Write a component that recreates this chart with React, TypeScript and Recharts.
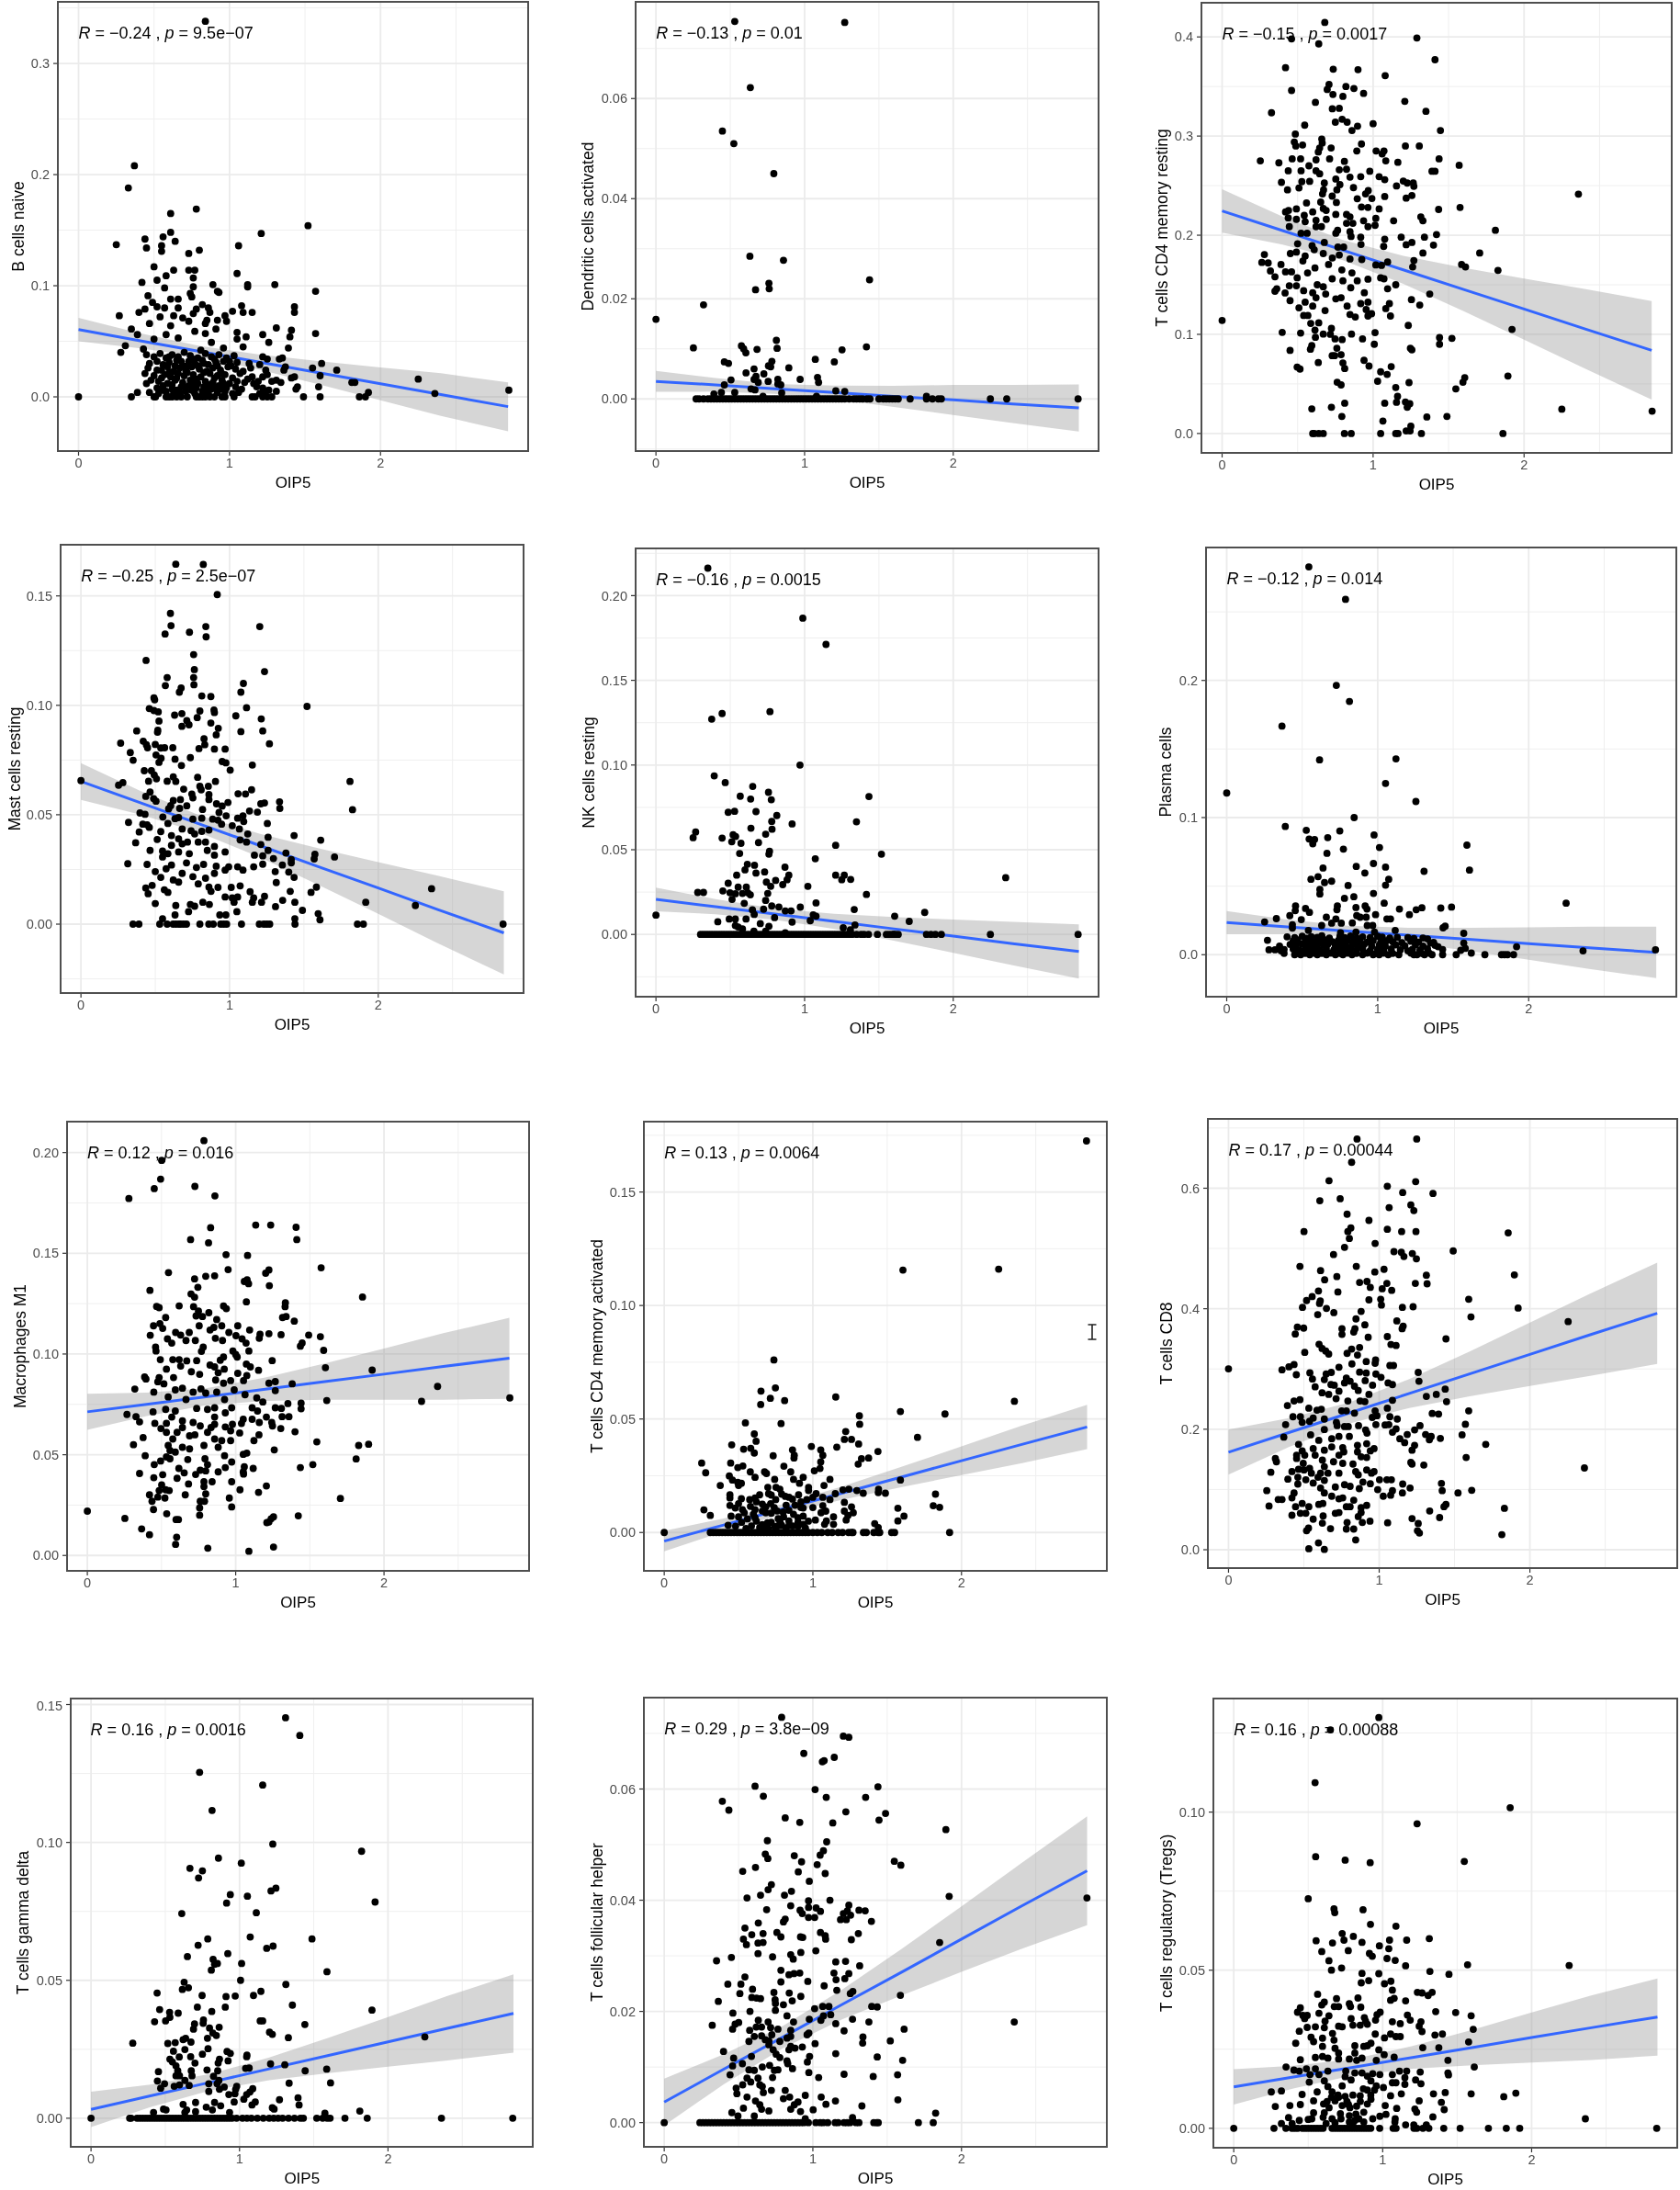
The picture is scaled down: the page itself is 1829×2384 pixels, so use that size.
import React from 'react';
import { ComposedChart, CartesianGrid, XAxis, YAxis, Scatter, Area, Line } from 'recharts';

const FONT = '"Liberation Sans", Arial, sans-serif';
const xDomain = [-0.143, 2.984];
const xTicks = [0, 1, 2];
const xMinor = [0.5, 1.5, 2.5];
const smoothX = [0, .4, .8, 1.2, 1.6, 2, 2.4, 2.845];

const bCellsPts = [[.84,.338],[.37,.208],[.33,.188],[.78,.169],[.61,.165],[1.52,.154],[.61,.148],[1.21,.147],[.56,.144],[.44,.142],[.25,.137],[.64,.14],[.55,.136],[1.06,.136],[.45,.134],[.55,.131],[.8,.132],[.73,.129],[.5,.117],[.63,.114],[.73,.114],[.77,.114],[1.05,.111],[.58,.109],[.76,.107],[.52,.105],[.42,.103],[.89,.101],[1.3,.101],[1.12,.101],[1.12,.099],[.57,.098],[.76,.099],[.92,.095],[.93,.094],[1.57,.095],[.46,.091],[.74,.093],[.75,.09],[.61,.088],[.66,.088],[.49,.085],[.52,.081],[.66,.08],[1.08,.082],[1.43,.081],[.82,.083],[.78,.079],[.86,.08],[.44,.079],[.57,.08],[.4,.076],[1.02,.077],[1.09,.076],[1.15,.076],[1.43,.076],[.76,.075],[.87,.076],[.27,.073],[.54,.072],[.97,.073],[.63,.073],[.92,.069],[.98,.068],[.85,.069],[.69,.071],[.73,.068],[.47,.066],[.61,.064],[.84,.066],[1.31,.062],[.35,.061],[.91,.061],[1.41,.06],[1.05,.058],[1.57,.057],[.39,.056],[.58,.056],[.77,.059],[.84,.057],[1.22,.056],[1.11,.054],[1.4,.054],[1.05,.052],[.5,.052],[.66,.053],[1.26,.049],[.88,.049],[.31,.046],[1.39,.044],[1.09,.045],[.96,.044],[.43,.043],[.28,.04],[.81,.042],[1.55,.026],[1.61,.03],[1.71,.024],[1.6,.019],[1.59,.009],[1.81,.013],[1.83,.013],[2.25,.016],[2.36,.003],[2.85,.006],[1.92,.004],[1.45,.009],[1.44,.007],[1.43,.018],[1.41,.017],[1.35,.035],[1.33,.034],[1.37,.027],[1.36,.024],[1.31,.005],[1.34,.013],[1.31,.015],[.45,.038],[.5,.036],[.54,.039],[.58,.035],[.62,.038],[.66,.036],[.7,.04],[.74,.037],[.79,.035],[.84,.039],[.88,.036],[.93,.038],[.98,.035],[1.03,.037],[1.22,.036],[1.25,.034],[.47,.03],[.52,.032],[.56,.029],[.6,.031],[.65,.033],[.69,.028],[.73,.032],[.77,.03],[.82,.033],[.86,.029],[.91,.031],[.96,.032],[1.01,.028],[1.05,.031],[1.13,.03],[1.2,.029],[.46,.026],[.55,.024],[.59,.027],[.63,.023],[.67,.026],[.71,.024],[.75,.027],[.8,.025],[.85,.023],[.89,.026],[.94,.024],[.99,.027],[1.04,.025],[1.09,.023],[1.14,.026],[1.24,.024],[.44,.021],[.5,.019],[.57,.02],[.61,.018],[.66,.021],[.7,.019],[.76,.02],[.81,.018],[.87,.021],[.92,.019],[.97,.02],[1.02,.017],[1.07,.021],[1.15,.018],[1.25,.02],[.45,.012],[.48,.015],[.53,.014],[.59,.012],[.64,.015],[.69,.013],[.74,.015],[.79,.012],[.84,.014],[.89,.013],[.95,.015],[1,.012],[1.05,.014],[1.1,.013],[1.16,.012],[1.28,.014],[.52,.008],[.56,.01],[.62,.007],[.68,.009],[.73,.01],[.78,.008],[.83,.009],[.88,.007],[.93,.01],[.98,.008],[1.04,.009],[1.08,.007],[1.18,.009],[1.22,.008],[1.26,.006],[.39,.004],[.47,.004],[.53,.003],[.58,.005],[.63,.003],[.67,.004],[.71,.005],[.77,.003],[.82,.005],[.86,.003],[.92,.004],[.97,.005],[1.02,.003],[1.06,.004],[1.2,.003],[1.24,.005],[.52,.024],[.6,.022],[.65,.017],[.72,.022],[.78,.016],[.83,.022],[.9,.017],[.95,.021],[.55,.017],[.62,.011],[.7,.009],[.76,.011],[.86,.011],[.91,.008],[.96,.012],[.56,.006],[.65,.006],[.75,.006],[.85,.006],[.95,.007],[.6,.036],[.68,.032],[.76,.034],[.83,.03],[.9,.034],[.64,.028],[.72,.028],[.79,.028],[.92,.028],[1.0,.032],[1.12,.016],[1.19,.014],[1.22,.018]];
const bCellsZero = [0,.35,.5,.51,.58,.6,.62,.65,.68,.72,.78,.8,.82,.84,.87,.9,.95,.97,1.03,1.15,1.17,1.22,1.25,1.28,1.49,1.6,1.86,1.9];
const bCellsFit = [.0605,.0507,.041,.0312,.0215,.0117,.002,-.0088];
const bCellsLo = [.05,.0439,.0361,.0244,.011,-.0031,-.0172,-.031];
const bCellsHi = [.071,.0575,.0459,.038,.032,.0265,.0212,.013];

const dcPts = [[.53,.0754],[1.27,.0752],[.635,.0622],[.447,.0535],[.524,.051],[.793,.045],[.632,.0285],[.858,.0277],[.76,.0231],[1.437,.0238],[.762,.022],[.67,.0218],[.32,.0188],[0,.0159],[.81,.0117],[.252,.0102],[.575,.0106],[.59,.01],[.605,.0092],[.68,.0099],[.815,.0101],[1.416,.0104],[1.252,.0098],[1.072,.0079],[1.2,.0074],[.78,.0075],[.46,.0074],[.488,.0071],[.757,.0066],[.772,.0064],[.66,.006],[.894,.0062],[.606,.0052],[.726,.005],[.673,.0045],[.66,.0039],[1.087,.0043],[1.094,.0033],[.97,.0039],[.505,.0038],[.755,.0035],[.82,.0039],[.688,.0033],[.46,.0028],[.84,.0028],[.82,.003],[.64,.002],[.666,.0018],[.44,.0013],[.53,.0013],[.39,.001],[.846,.0012],[1.21,.0016],[1.27,.0015],[1.82,.0005],[.72,.0005],[1.08,.0005]];
const dcZero = [.27,.29,.32,.35,.37,.39,.41,.43,.45,.47,.49,.51,.53,.55,.57,.59,.61,.63,.65,.67,.69,.71,.73,.75,.77,.79,.81,.83,.85,.87,.89,.91,.93,.95,.97,.99,1.01,1.03,1.05,1.07,1.09,1.11,1.13,1.15,1.17,1.19,1.21,1.23,1.25,1.27,1.3,1.33,1.35,1.37,1.39,1.42,1.44,1.5,1.53,1.55,1.57,1.59,1.61,1.63,1.71,1.82,1.86,1.9,1.92,2.25,2.36,2.84];
const dcFit = [.0035,.0028,.002,.0013,.0005,-.0002,-.001,-.0018];
const dcLo = [.0014,.00145,.00102,-.00005,-.0016,-.0032,-.0048,-.0065];
const dcHi = [.0056,.00415,.00298,.00265,.0026,.0028,.0028,.0029];

const cd4RestPts = [[.68,.4146],[.46,.398],[1.29,.399],[.64,.393],[1.41,.377],[.42,.369],[.736,.3675],[.9,.367],[1.08,.361],[.708,.352],[.82,.35],[.873,.348],[.696,.347],[.46,.346],[.734,.342],[.937,.343],[.8,.34],[.618,.334],[1.21,.335],[1.35,.325],[.327,.3235],[.73,.3275],[.776,.328],[.795,.317],[.75,.314],[.828,.314],[1,.3125],[.547,.311],[.897,.31],[.86,.3056],[1.446,.3056],[.485,.302],[.66,.297],[.478,.294],[.533,.291],[.923,.292],[1.214,.29],[1.306,.29],[.488,.29],[.663,.293],[.646,.288],[.722,.288],[.637,.284],[.892,.285],[1.02,.285],[1.072,.285],[1.06,.282],[.253,.275],[.376,.273],[.464,.277],[.52,.277],[.712,.277],[1.437,.277],[1.084,.275],[.622,.276],[.81,.2745],[1.164,.2735],[1.57,.2705],[.575,.27],[.438,.265],[.523,.265],[.776,.266],[.824,.2665],[.978,.2645],[1.39,.2645],[1.41,.2645],[.622,.265],[.646,.262],[.918,.259],[1.04,.259],[.847,.2586],[.753,.2566],[1.077,.256],[.393,.2533],[.528,.254],[.58,.2543],[.677,.2526],[1.2,.2546],[1.226,.2526],[1.266,.2526],[1.155,.2497],[1.27,.2493],[.509,.2477],[.78,.251],[.87,.248],[.433,.2457],[.672,.2457],[.76,.2457],[.968,.245],[.95,.2417],[.665,.2417],[1.077,.239],[1.219,.2374],[1.257,.24],[2.36,.2414],[.729,.2394],[.895,.2368],[.992,.237],[.653,.2334],[.559,.2325],[.757,.233],[.923,.2285],[.966,.228],[1.04,.2265],[1.434,.226],[1.576,.228],[.492,.2265],[.44,.225],[.42,.2235],[.67,.227],[.689,.225],[.824,.221],[.753,.221],[.544,.22],[.6,.2235],[.847,.2185],[.438,.2175],[1.316,.2185],[1.33,.2146],[1.018,.217],[1.136,.2146],[.937,.2146],[.492,.216],[.55,.2136],[.622,.215],[.69,.216],[.824,.212],[.866,.212],[.622,.2086],[.658,.2086],[.445,.2086],[.966,.2086],[1.013,.21],[.765,.205],[.847,.2036],[.753,.202],[1.81,.205],[1.42,.2007],[1.186,.198],[.523,.202],[.563,.202],[.918,.198],[1.077,.196],[1.34,.198],[.854,.1987],[1.257,.1927],[1.219,.1904],[1.07,.1887],[1.4,.19],[.92,.1907],[.677,.1927],[.5,.1914],[.596,.1894],[.767,.188],[.805,.188],[1.33,.182],[1.706,.182],[.452,.1815],[.492,.183],[.61,.1854],[.28,.1805],[.67,.1815],[.776,.18],[.55,.179],[.73,.177],[.847,.176],[1.27,.1745],[.925,.1755],[1.018,.17],[1.056,.1695],[1.096,.173],[1.586,.1705],[1.612,.168],[1.262,.168],[.263,.1725],[.305,.172],[.39,.1705],[.535,.174],[.705,.1705],[1.827,.1645],[.32,.164],[.42,.163],[.46,.163],[.615,.167],[.793,.165],[.86,.162],[.566,.162],[.35,.158],[.497,.157],[1.05,.157],[1.072,.156],[.966,.1556],[.895,.154],[.729,.156],[.8,.154],[.63,.15],[.67,.148],[.445,.149],[.492,.149],[1.15,.15],[1.096,.146],[.852,.147],[.362,.146],[.35,.1435],[.54,.144],[.417,.1417],[.6,.142],[1.375,.1407],[.686,.1407],[.942,.142],[.622,.137],[.788,.137],[.753,.1358],[1.254,.135],[.45,.134],[.55,.1325],[1.108,.131],[.918,.131],[.966,.1325],[.828,.1285],[1.309,.1295],[.509,.1268],[.6,.1285],[1.084,.126],[.682,.124],[.954,.125],[.847,.12],[.99,.1208],[.54,.119],[.568,.119],[1.115,.1185],[.882,.1175],[.966,.1185],[0,.114],[.587,.111],[.64,.1116],[1.233,.109],[1.92,.105],[.615,.1043],[.724,.106],[.398,.102],[.52,.1013],[.857,.1003],[1.013,.1017],[.67,.1003],[.717,.1],[1.44,.0967],[1.522,.096],[.618,.097],[.748,.0954],[.795,.0947],[.93,.0954],[1.44,.09],[1.008,.09],[.594,.0887],[1.247,.086],[1.257,.0844],[.585,.085],[.76,.086],[.45,.0838],[.729,.0785],[.745,.0785],[.788,.0795],[.94,.0738],[.637,.0715],[.8,.0712],[.973,.068],[1.12,.0675],[.497,.067],[.516,.065],[.812,.0655],[1.05,.0622],[1.093,.0596],[1.893,.058],[1.03,.0527],[.762,.0517],[.788,.049],[1.238,.0513],[1.607,.0563],[1.595,.0517],[1.548,.045],[1.15,.0464],[1.162,.0374],[1.155,.0315],[1.077,.0305],[.812,.0305],[1.214,.0318],[1.226,.0265],[1.243,.03],[.594,.0248],[.724,.0265],[2.25,.0245],[2.848,.0225],[.793,.0172],[1.356,.0166],[1.489,.0172],[1.065,.0126],[1.25,.0073],[1.219,.0026],[1.245,.0026]];
const cd4RestZero = [.6,.61,.64,.67,.81,.855,1.05,1.15,1.165,1.32,1.86];
const cd4RestFit = [.2245,.2047,.1849,.1651,.1453,.1255,.1057,.0838];
const cd4RestLo = [.2026,.1906,.1747,.151,.1234,.0947,.0656,.0341];
const cd4RestHi = [.2464,.2188,.1951,.1792,.1672,.1563,.1458,.1335];

const mastPts = [[.638,.1645],[.823,.1644],[.917,.1506],[.602,.142],[.606,.1364],[.84,.136],[1.203,.136],[.566,.1326],[.73,.1334],[.842,.1313],[.758,.1232],[.438,.1205],[.763,.1163],[1.235,.1154],[.58,.1127],[.758,.1127],[.76,.1094],[.568,.109],[1.093,.11],[.674,.1079],[.662,.106],[1.076,.106],[.813,.1043],[.874,.104],[.491,.1034],[.496,.1025],[1.521,.0995],[1.114,.0989],[.46,.0985],[.491,.0976],[.52,.097],[.895,.0979],[.898,.0967],[.8,.0974],[.679,.0962],[.63,.0955],[1.042,.0952],[.782,.0944],[1.213,.0938],[.712,.093],[.525,.0928],[.727,.0911],[.874,.0919],[.679,.0904],[.924,.0895],[1.223,.0883],[.375,.0883],[.517,.0886],[.515,.0877],[1.076,.088],[.91,.0865],[.828,.0847],[.419,.0836],[.267,.0827],[1.268,.0824],[.5,.0821],[.44,.082],[.448,.0806],[.537,.0805],[.563,.0806],[.618,.0806],[.833,.082],[.898,.08],[.97,.08],[.794,.0802],[.332,.0784],[.505,.0773],[.736,.0761],[.633,.0754],[.351,.0749],[.539,.0758],[.525,.0739],[.95,.0743],[.975,.0737],[1.153,.0727],[.676,.0725],[1.004,.0704],[.426,.0701],[.474,.0701],[.493,.0682],[.508,.0664],[.621,.0673],[.785,.0671],[.455,.0653],[.58,.0653],[.638,.0652],[.905,.0652],[1.81,.0652],[0,.0656],[.253,.0635],[.282,.0647],[.8,.063],[.857,.063],[.809,.0614],[.691,.0617],[1.148,.0614],[.465,.0604],[1.107,.0595],[1.057,.0596],[.861,.0592],[.436,.0584],[.746,.0595],[.489,.0574],[.505,.0562],[.621,.0565],[.669,.0569],[.753,.0577],[.861,.0569],[1.336,.0559],[.989,.0556],[1.235,.0554],[1.21,.055],[.912,.055],[.95,.054],[.604,.0542],[.712,.0541],[1.338,.0529],[.59,.0527],[.664,.0529],[1.134,.0517],[1.827,.0523],[1.187,.0512],[.818,.0524],[.929,.051],[.397,.0508],[.431,.0502],[.977,.0495],[.551,.049],[1.09,.0495],[.633,.0482],[.657,.0487],[.813,.0484],[.753,.048],[.886,.048],[.922,.0475],[1.054,.0484],[1.095,.0469],[.32,.0465],[.416,.0457],[.445,.0454],[.585,.046],[1.254,.046],[.946,.0457],[1.018,.045],[.46,.0442],[1.066,.0435],[.681,.0435],[.392,.0421],[.537,.0423],[.813,.0424],[.861,.043],[.741,.0427],[1.122,.0412],[1.434,.0405],[.765,.0412],[.609,.0405],[1.259,.0397],[.513,.0387],[1.613,.0384],[.657,.039],[1.071,.0385],[.368,.0372],[.717,.0375],[.789,.0375],[.681,.0367],[1.114,.0375],[.898,.0355],[.838,.0375],[.609,.036],[1.21,.0364],[.465,.0337],[.97,.033],[.85,.0337],[.657,.033],[1.259,.0337],[.549,.0334],[1.379,.0325],[.585,.0322],[1.574,.0319],[.729,.0322],[1.167,.0315],[1.223,.0312],[.898,.0315],[.549,.0307],[1.569,.0298],[1.706,.0307],[1.295,.03],[1.415,.0295],[.315,.0276],[.445,.0273],[.71,.028],[.825,.0273],[1.223,.0274],[1.355,.027],[1.415,.028],[.609,.027],[1.162,.0262],[.777,.0259],[.91,.0265],[.994,.0262],[1.054,.0262],[.573,.0253],[.97,.0247],[1.09,.0247],[1.307,.024],[1.398,.0238],[.5,.024],[.898,.0232],[.681,.0232],[1.434,.0214],[.753,.0217],[.838,.021],[.537,.0214],[.621,.0202],[1.314,.019],[.657,.0192],[.789,.0184],[1.011,.0168],[1.071,.0175],[.479,.0177],[.436,.0165],[1.584,.0169],[.922,.0168],[.861,.0169],[.561,.0157],[1.408,.015],[1.548,.0145],[1.138,.0148],[.452,.0139],[.585,.0145],[.875,.015],[1.018,.012],[1.054,.0124],[1.235,.0127],[1.162,.012],[.97,.0124],[1.357,.0109],[1.03,.01],[1.153,.01],[1.215,.01],[1.439,.01],[1.916,.01],[.5,.0094],[.82,.01],[.864,.009],[1.309,.008],[.638,.0085],[2.25,.0085],[.736,.009],[.765,.0082],[1.49,.0063],[.724,.0057],[1.049,.0057],[.934,.0042],[.975,.0042],[.633,.0042],[1.596,.0048],[1.439,.0025],[1.608,.002],[.549,.0025],[2.359,.0162]];
const mastZero = [.35,.39,.53,.58,.62,.64,.66,.67,.69,.71,.8,.86,.89,.94,.96,.98,1.08,1.2,1.23,1.25,1.27,1.44,1.86,1.9,2.84];
const mastFit = [.0652,.0555,.0457,.036,.0262,.0165,.0067,-.004];
const mastLo = [.0568,.0501,.0418,.0306,.0178,.0047,-.0087,-.023];
const mastHi = [.0736,.0609,.0496,.0414,.0346,.0283,.0221,.015];

const nkPts = [[.349,.2162],[.988,.1867],[1.144,.1712],[.767,.1315],[.445,.1304],[.375,.1271],[.969,.1],[.392,.0936],[.466,.0896],[.651,.0874],[.757,.0839],[.567,.0816],[1.433,.0814],[.637,.0799],[.776,.0795],[.486,.0721],[.529,.0727],[.673,.0725],[.813,.0702],[.779,.0667],[1.349,.0665],[.916,.0652],[.639,.0627],[.781,.0621],[.267,.0605],[.25,.0571],[.738,.0592],[.519,.0588],[.536,.0578],[.445,.0569],[.51,.0547],[.572,.0538],[.69,.0542],[1.209,.0526],[.764,.0491],[.76,.0474],[.563,.0478],[1.517,.0474],[1.072,.0447],[.615,.0414],[.663,.0408],[.868,.0397],[.599,.0381],[.731,.0369],[.673,.0362],[.894,.035],[.543,.035],[1.209,.035],[1.267,.035],[1.31,.0325],[1.25,.0323],[2.353,.0335],[.882,.0323],[.805,.0319],[.743,.0309],[.486,.0302],[.853,.0294],[.772,.0284],[1.022,.0284],[.553,.0279],[.608,.0279],[.45,.0257],[.281,.0248],[.32,.0248],[.498,.0246],[.534,.024],[.582,.0242],[.618,.0246],[.635,.0234],[.752,.0242],[1.416,.0236],[.512,.0207],[.738,.0201],[.594,.0184],[1.077,.0186],[.779,.0168],[.827,.0162],[.971,.0161],[.724,.0149],[.649,.0145],[1.334,.0147],[.87,.0139],[.909,.0139],[.661,.0118],[1.058,.0116],[1.077,.0108],[1.606,.0108],[1.808,.013],[0,.0114],[.798,.0099],[.493,.0091],[.534,.0091],[.606,.0091],[1.038,.0081],[.916,.0073],[.416,.0075],[1.704,.0077],[.702,.0064],[.534,.0052],[.553,.0044],[.76,.0048],[1.26,.0039],[1.339,.0056],[1.308,.0027],[.582,.0033],[.659,.0019],[.738,.0019],[.87,.001]];
const nkZero = [.3,.32,.34,.36,.38,.4,.42,.44,.46,.48,.5,.52,.54,.56,.58,.6,.62,.64,.66,.68,.7,.72,.74,.76,.78,.8,.82,.84,.86,.88,.9,.92,.94,.96,.98,1,1.02,1.04,1.06,1.08,1.1,1.12,1.14,1.16,1.18,1.2,1.22,1.24,1.26,1.28,1.3,1.32,1.35,1.38,1.4,1.43,1.49,1.55,1.57,1.59,1.6,1.61,1.63,1.82,1.85,1.88,1.92,2.25,2.84];
const nkFit = [.0207,.0164,.012,.0077,.0033,-.001,-.0054,-.0101];
const nkLo = [.0137,.0119,.0087,.0032,-.0037,-.0108,-.0182,-.0261];
const nkHi = [.0277,.0209,.0153,.0122,.0103,.0088,.0074,.0059];

const plasmaPts = [[.544,.2828],[.787,.2591],[.726,.1964],[.813,.1847],[.366,.1667],[.615,.1421],[1.121,.1428],[1.052,.1249],[0,.1179],[1.253,.1117],[.844,.1],[.388,.0935],[.527,.0907],[.749,.0902],[.976,.0873],[.669,.0854],[.546,.0844],[.582,.084],[.57,.0809],[1.591,.0799],[1.012,.0782],[.773,.077],[.664,.0739],[.972,.0665],[.858,.0644],[1.052,.0639],[.638,.0632],[1.608,.0617],[1.307,.0608],[.915,.0596],[.605,.0569],[.558,.055],[1.073,.055],[.695,.0536],[.648,.0526],[1.052,.0507],[.804,.0505],[.617,.0476],[.617,.0443],[.972,.0447],[.842,.0423],[.78,.0411],[2.248,.0376],[1.043,.0376],[.456,.0356],[.733,.0356],[.917,.0356],[.522,.0337],[1.144,.0333],[.856,.0344],[1.293,.0342],[1.255,.0328],[1.418,.034],[1.489,.0347],[.454,.0321],[.929,.0333],[.73,.0328],[.548,.0309],[.418,.0285],[1.21,.0292],[.329,.0263],[.986,.0292],[.66,.0273],[.861,.0285],[.884,.0273],[.924,.0273],[.494,.0256],[1.061,.0261],[1.085,.0261],[.723,.0261],[.251,.0239],[.695,.023],[.759,.023],[.832,.0232],[.629,.0213],[.435,.0218],[.931,.0213],[.967,.0213],[1.447,.0208],[1.433,.0196],[.435,.0194],[1.116,.0177],[1.57,.0156],[.856,.0165],[.979,.0165],[.541,.0177],[.754,.016],[.4,.013],[.45,.0125],[.5,.0135],[.53,.012],[.56,.0132],[.6,.0126],[.63,.0138],[.68,.0122],[.75,.0134],[.78,.0125],[.82,.0136],[.86,.0122],[.9,.013],[.95,.0124],[1,.0134],[1.03,.0128],[1.08,.0122],[1.13,.0126],[1.2,.0124],[1.24,.0118],[1.3,.0122],[1.33,.0115],[.27,.0105],[.44,.01],[.47,.0108],[.52,.0096],[.55,.0105],[.58,.0092],[.61,.0102],[.65,.0108],[.7,.0095],[.74,.0104],[.77,.0092],[.8,.0106],[.84,.0098],[.88,.0105],[.93,.0092],[.97,.0102],[1.02,.009],[1.06,.0102],[1.1,.0094],[1.16,.0088],[1.22,.0098],[1.27,.0092],[1.35,.0085],[1.37,.009],[1.57,.0085],[.35,.0062],[.42,.0075],[.46,.0068],[.5,.0078],[.54,.0065],[.57,.0075],[.6,.0066],[.64,.0072],[.67,.0078],[.72,.0066],[.76,.0074],[.79,.0062],[.83,.0072],[.87,.0066],[.91,.0076],[.96,.0062],[1.01,.007],[1.05,.0062],[1.12,.0072],[1.18,.0064],[1.25,.0072],[1.3,.0062],[1.38,.0068],[1.4,.0058],[.28,.0036],[.32,.0036],[.36,.0028],[.38,.0038],[.44,.0042],[.48,.0034],[.52,.0042],[.56,.0036],[.59,.0044],[.62,.0032],[.66,.0042],[.71,.0036],[.75,.0042],[.78,.003],[.82,.004],[.86,.0034],[.9,.0044],[.95,.003],[1,.004],[1.04,.0034],[1.09,.0042],[1.15,.0036],[1.2,.0028],[1.23,.004],[1.28,.0034],[1.33,.0042],[1.43,.0038],[1.55,.0032],[1.58,.0046],[1.92,.0058],[2.36,.0028],[2.84,.0036],[.38,.001],[.45,0],[.47,.0012],[.49,0],[.52,.001],[.55,0],[.58,.0012],[.6,0],[.63,.001],[.66,0],[.69,.0012],[.72,0],[.75,.001],[.77,0],[.8,.0012],[.83,0],[.86,.001],[.9,0],[.93,.0012],[.97,0],[.99,.001],[1.01,0],[1.04,.0012],[1.07,0],[1.1,.001],[1.14,0],[1.22,.0012],[1.24,0],[1.26,0],[1.29,.001],[1.31,0],[1.34,.0012],[1.36,0],[1.43,0],[1.52,0],[1.62,.0012],[1.71,0],[1.82,0],[1.84,0],[1.86,0],[1.9,0]];
const plasmaZero = [];
const plasmaFit = [.0234,.0203,.0173,.0142,.0112,.0081,.005,.0017];
const plasmaLo = [.015,.0149,.0134,.0088,.0028,-.0037,-.0104,-.0171];
const plasmaHi = [.0318,.0257,.0212,.0196,.0196,.0199,.0204,.0205];

const m1Pts = [[.786,.2059],[.501,.1961],[.494,.1868],[.451,.1821],[.725,.1832],[.28,.1772],[.86,.1785],[.831,.1627],[1.135,.164],[1.236,.164],[1.407,.1629],[.696,.1568],[1.412,.1568],[.817,.1552],[.935,.1493],[1.08,.1489],[1.576,.1428],[.949,.1419],[1.224,.1417],[1.202,.1401],[.547,.1404],[.798,.1386],[.858,.1388],[.723,.1373],[1.058,.136],[1.077,.1368],[1.087,.1349],[1.227,.1339],[.745,.1331],[.422,.1316],[.699,.1298],[.723,.1282],[1.855,.1283],[1.335,.1254],[1.072,.1259],[1.333,.1235],[.619,.1239],[.918,.1238],[.467,.1236],[.484,.123],[.716,.1235],[.937,.1225],[.819,.1205],[.749,.1213],[.733,.1189],[.776,.1186],[.528,.1181],[1.316,.1181],[1.34,.1186],[1.395,.1163],[.872,.1171],[1.014,.114],[.489,.1151],[.446,.114],[.508,.1127],[.754,.114],[.906,.114],[.853,.1132],[.827,.1119],[1.094,.1119],[.954,.1107],[.595,.1107],[.687,.1107],[.424,.1093],[1.002,.1091],[1.164,.1098],[1.224,.1101],[1.306,.1096],[1.492,.1094],[1.571,.1086],[.629,.1094],[1.159,.1078],[.54,.1075],[.863,.1078],[.911,.1067],[1.043,.1075],[.728,.1067],[.665,.1067],[.569,.1054],[1.448,.1055],[1.07,.1054],[1.436,.1039],[.781,.1034],[.46,.1034],[1.089,.1015],[1.593,.1018],[.463,.1015],[.981,.1015],[.769,.1013],[1,.0998],[1.246,.0967],[1.01,.0985],[.918,.0985],[.492,.0972],[.576,.0972],[.619,.0972],[.67,.0966],[.737,.0967],[.896,.0969],[.827,.0945],[1.072,.095],[1.099,.0936],[1.605,.0932],[1.92,.092],[.533,.0925],[.629,.094],[.858,.0936],[.923,.0925],[1.154,.0919],[.882,.0907],[.701,.0912],[1.014,.0904],[.757,.0899],[.386,.0886],[.395,.0876],[.581,.0883],[1.075,.0893],[.484,.0883],[.966,.0868],[1.053,.0868],[.865,.0871],[1.267,.0863],[1.224,.0855],[1.381,.0852],[.475,.0862],[.516,.0852],[.918,.0855],[.641,.083],[2.361,.0839],[.32,.0826],[.593,.0822],[.766,.0827],[.99,.0822],[1.267,.0818],[.448,.0811],[.872,.0811],[.798,.0806],[.713,.0811],[1.063,.0798],[2.848,.0782],[.545,.0787],[1.142,.0782],[1.614,.0769],[2.253,.0765],[.925,.0774],[.665,.0774],[1.183,.0762],[1.441,.0756],[1.352,.0754],[.528,.0725],[1.267,.0733],[1.308,.073],[1.441,.0728],[1.111,.0733],[.443,.0713],[.737,.073],[.81,.0725],[.858,.0733],[.973,.0733],[1.147,.0717],[.593,.0717],[.267,.07],[.328,.0689],[1.313,.0689],[1.359,.0689],[.93,.0708],[.858,.0687],[1.051,.0676],[1.111,.0676],[1.207,.0687],[.569,.0687],[.352,.0663],[.455,.0656],[.533,.0656],[.641,.0668],[.713,.066],[1.159,.066],[1.243,.066],[.858,.0651],[.978,.0651],[1.039,.0655],[1.304,.063],[1.248,.0643],[.93,.0638],[.834,.0635],[.496,.063],[.641,.0635],[.761,.0643],[1.4,.0614],[.533,.0611],[.605,.0611],[.966,.0619],[1.027,.0608],[.81,.0611],[1.157,.0599],[.376,.0585],[.689,.0594],[.725,.0599],[.576,.0578],[1.123,.057],[.858,.0578],[.966,.057],[.906,.057],[1.547,.0564],[.311,.055],[.545,.0546],[1.896,.0552],[1.829,.0546],[.786,.0546],[.882,.0537],[.641,.0537],[.557,.0521],[1.26,.0524],[.689,.0529],[.593,.0513],[1.051,.0502],[1.075,.0508],[.39,.0495],[.925,.0495],[.533,.0489],[1.812,.0479],[.557,.048],[.677,.0476],[.793,.048],[.494,.0469],[.973,.0464],[1.52,.0451],[.451,.0451],[.81,.0451],[1.436,.0436],[1.058,.044],[1.118,.0432],[.617,.0432],[.93,.0436],[1.051,.0415],[.882,.0415],[.761,.0423],[.352,.0407],[.653,.041],[.73,.0402],[.798,.042],[1.053,.0404],[.508,.0401],[.448,.0386],[.605,.0383],[.973,.0366],[.841,.0366],[.786,.0366],[.682,.0355],[1.207,.0345],[.501,.035],[.786,.0342],[.528,.0326],[1.029,.0326],[.484,.0322],[.552,.0322],[1.154,.0313],[.419,.0301],[.66,.0301],[.798,.0306],[.475,.029],[.957,.0285],[1.706,.0283],[.523,.0285],[.436,.0269],[.761,.0269],[.79,.0269],[.973,.0241],[.757,.0236],[.446,.0228],[0,.022],[.757,.02],[.535,.0207],[1.422,.0197],[1.255,.0192],[1.239,.0182],[.253,.0184],[.598,.0178],[.614,.0178],[1.224,.0166],[1.21,.0163],[.366,.0132],[.419,.0103],[.602,.0091],[.595,.0055],[.812,.0036],[1.089,.0021],[1.255,.0042]];
const m1Zero = [];
const m1Fit = [.0713,.075,.0788,.0825,.0863,.09,.0938,.0979];
const m1Lo = [.0623,.0692,.0746,.0767,.0773,.0773,.0773,.0778];
const m1Hi = [.0803,.0808,.083,.0883,.0953,.1027,.1103,.118];

const cd4ActPts = [[2.841,.1725],[1.606,.1156],[2.25,.116],[.738,.076],[.748,.0637],[.651,.0623],[1.154,.0597],[.714,.0591],[.81,.0581],[2.356,.0578],[.649,.0564],[1.589,.0533],[1.313,.0514],[1.889,.0522],[.546,.0483],[.786,.048],[1.315,.0477],[1.221,.0445],[.606,.0434],[.618,.0402],[1.212,.041],[1.26,.041],[1.704,.0419],[1.308,.039],[.454,.0386],[.99,.0379],[1.161,.0376],[.534,.0367],[.582,.0371],[.863,.0364],[1.053,.0364],[1.438,.0357],[.606,.035],[1.067,.034],[.733,.0338],[.875,.034],[.873,.0328],[1.375,.0328],[1.327,.0325],[.252,.0306],[.447,.0306],[1.305,.0301],[1.053,.0311],[.495,.0286],[.529,.0293],[.805,.0292],[1.048,.0282],[.851,.0267],[1.01,.0272],[.579,.0267],[.279,.0263],[.675,.0267],[.688,.026],[.438,.0249],[.935,.0243],[.611,.0243],[.743,.0234],[.87,.0234],[1.115,.0234],[.459,.0231],[.495,.0221],[1.589,.0231],[.91,.0217],[.519,.0217],[.5,.0207],[.377,.0207],[.971,.0199],[1.075,.0207],[.752,.0199],[.697,.0199],[.778,.0191],[1.202,.0188],[1.242,.0191],[1.442,.0191],[.971,.0185],[1.296,.0185],[1.44,.0176],[1.488,.0173],[1.825,.0169],[1.339,.0173],[1.151,.0171],[1.022,.0171],[.79,.0169],[.702,.0171],[.642,.0166],[.442,.0166],[.815,.0159],[.904,.0166],[.442,.0152],[.519,.0149],[1.067,.0155],[1.115,.0145],[.611,.0152],[.575,.0145],[.863,.0147],[.959,.0145],[1.212,.0133],[.716,.0127],[.5,.0127],[.442,.0119],[1.81,.0118],[1.853,.0111],[1.26,.0113],[1.067,.0118],[.683,.0113],[.478,.0108],[1.572,.0107],[.526,.0101],[.267,.01],[1.212,.0094],[1.087,.0094],[.611,.0101],[.839,.0098],[.935,.0108],[.538,.0087],[1.055,.0087],[1.272,.0087],[.683,.0087],[.31,.0075],[1.236,.0075],[1.613,.0072],[.45,.0072],[.935,.0072],[.5,.0069],[.803,.0069],[1.139,.0069],[.767,.0061],[.611,.0065],[1.017,.0055],[1.224,.0055],[1.572,.0051],[1.091,.0051],[1.079,.0036],[.839,.0051],[1.139,.0036],[.695,.0043],[1.416,.0039],[.935,.0036],[.79,.0032],[.587,.0029],[1.44,.0022],[.863,.0029],[.743,.0026],[.642,.0022],[.43,.0032],[.62,.005],[.72,.0045],[.76,.0028],[.84,.0032],[.66,.0035],[.9,.0028],[.55,.0018],[.7,.0018],[.56,.006],[.6,.008],[.66,.0095],[.72,.0085],[.76,.0095],[.8,.009],[.87,.008],[.9,.0065],[.97,.005],[.74,.011],[.82,.012],[.88,.012],[.92,.011],[.52,.0045],[.48,.0028],[.68,.0015],[.78,.0045],[.82,.002],[.9,.0045],[.95,.002],[.58,.0115],[.62,.0135],[.75,.0145],[.66,.0125],[.72,.0165],[.84,.0155],[.92,.0135],[1.0,.011],[1.0,.0155]];
const cd4ActZero = [0,.31,.33,.35,.37,.39,.41,.43,.45,.47,.49,.51,.53,.55,.57,.59,.61,.63,.65,.67,.69,.71,.73,.75,.77,.79,.81,.83,.85,.87,.89,.91,.93,.95,.97,1,1.03,1.06,1.1,1.13,1.17,1.2,1.24,1.26,1.27,1.34,1.36,1.41,1.44,1.45,1.53,1.55,1.92];
const cd4ActFit = [-.0038,.0033,.0104,.0174,.0245,.0316,.0387,.0465];
const cd4ActLo = [-.0083,.0004,.0083,.0145,.02,.0253,.0305,.0367];
const cd4ActHi = [.0007,.0062,.0125,.0203,.029,.0379,.0469,.0563];

const cd8Pts = [[.853,.6817],[1.249,.6817],[.817,.643],[.667,.6125],[1.242,.6109],[1.054,.6033],[1.156,.5929],[1.357,.5913],[.606,.5793],[.741,.5826],[1.066,.5678],[1.21,.5722],[1.23,.5629],[.787,.5569],[.932,.5466],[.812,.534],[1.054,.5319],[.501,.5281],[.792,.5281],[1.149,.5281],[1.244,.5281],[1.856,.5259],[.802,.5166],[.973,.5084],[.77,.5019],[1.491,.4959],[1.098,.4948],[1.147,.4937],[1.22,.4916],[.697,.4899],[1.164,.4866],[1.247,.4828],[.474,.4703],[.848,.4703],[1.032,.4654],[.611,.4632],[.971,.461],[1.313,.4556],[1.897,.4561],[.719,.4534],[.638,.448],[.919,.4452],[.87,.4436],[1.051,.442],[1.24,.442],[1.318,.4414],[.941,.4354],[1.02,.4332],[1.083,.4305],[.597,.4294],[.726,.4278],[.555,.4202],[.518,.4136],[.932,.4147],[1.01,.4158],[1.594,.4158],[.609,.4131],[.604,.4087],[1.015,.406],[.491,.4022],[.65,.4005],[1.154,.4022],[1.225,.4033],[1.922,.4011],[.699,.3935],[.88,.3956],[.592,.3902],[1.609,.3864],[.846,.3831],[1.117,.3798],[2.254,.3787],[.905,.3733],[1.159,.3711],[.753,.3668],[.457,.3695],[.499,.3678],[1.152,.3668],[.839,.3668],[.831,.3613],[.443,.358],[.753,.3575],[1.054,.3537],[.927,.3526],[1.443,.3499],[.601,.3411],[1.078,.3406],[1.112,.339],[.87,.3357],[.621,.3341],[.817,.333],[.645,.3297],[.506,.3275],[.787,.3259],[.665,.3248],[.856,.3232],[.976,.315],[.914,.3123],[.973,.3095],[.819,.3084],[.435,.3074],[.401,.3035],[1.071,.3057],[1.095,.3057],[.733,.303],[.355,.2986],[0,.3003],[.87,.2948],[.914,.2932],[1.259,.2943],[.54,.2937],[.682,.2943],[.648,.2916],[.45,.2905],[.978,.2916],[1.012,.2861],[.782,.285],[.557,.2834],[.907,.2807],[.636,.2823],[.807,.2796],[1.264,.2796],[.77,.2768],[1.059,.2768],[1.088,.2741],[.68,.2741],[.836,.2714],[.575,.2703],[.956,.273],[.861,.2643],[.702,.273],[1.438,.2665],[.621,.2605],[.733,.2632],[.665,.2578],[.932,.2578],[1.313,.2545],[1.379,.2578],[.714,.2507],[1.088,.248],[.792,.2469],[.435,.2469],[.474,.249],[.873,.2469],[.905,.2458],[1.447,.2458],[.391,.2392],[.533,.2349],[1.054,.2349],[.587,.2316],[.616,.2332],[.973,.2305],[1.594,.2305],[.751,.2305],[.782,.2305],[1.352,.2262],[1.394,.2251],[.836,.2267],[.954,.2196],[.985,.2223],[1.071,.2207],[.428,.2207],[.477,.2207],[.562,.2185],[1.12,.2169],[.636,.2169],[.489,.2114],[.538,.2131],[.716,.2114],[.379,.2076],[.721,.206],[1.572,.2082],[1.039,.2071],[1.064,.2076],[.978,.2076],[.863,.206],[.77,.2044],[.795,.2044],[1.271,.206],[1.112,.2005],[1.235,.1989],[.636,.1995],[.91,.1989],[.919,.1935],[1.088,.1951],[.733,.188],[1.186,.1913],[1.308,.1913],[1.55,.1907],[.545,.1907],[1.345,.188],[1.137,.1842],[1.406,.1847],[.367,.1869],[1.333,.1826],[.685,.1842],[.802,.188],[.599,.1815],[1.169,.1777],[.465,.1749],[1.707,.1749],[1.235,.1733],[.856,.1733],[.917,.176],[1.218,.1651],[.685,.1706],[.758,.1695],[.966,.1678],[.489,.164],[.562,.1678],[.636,.1651],[.856,.1624],[.941,.164],[.765,.1624],[.452,.1569],[.506,.1569],[.575,.1569],[.733,.1569],[.88,.1542],[.917,.1531],[.311,.1515],[1.577,.1531],[.452,.1515],[.318,.146],[.623,.1488],[.697,.146],[.758,.1433],[1.21,.145],[1.218,.1422],[1.296,.1406],[.826,.1422],[.496,.1433],[.636,.1379],[2.362,.1357],[.465,.1335],[.538,.1351],[.421,.1297],[.281,.1286],[.501,.1324],[.844,.1297],[.917,.1324],[.966,.1297],[.733,.127],[.611,.127],[.66,.127],[.55,.127],[.861,.1243],[.949,.127],[.594,.1204],[.394,.1172],[.46,.1204],[.513,.1161],[1.002,.1161],[1.051,.1161],[1.081,.1161],[.636,.115],[.562,.1106],[.892,.1123],[.941,.1095],[.46,.109],[1.413,.1101],[1.156,.109],[.77,.1079],[.709,.1041],[.807,.1052],[.868,.1014],[1.205,.1025],[.611,.1025],[.99,.0997],[1.614,.0986],[.254,.0981],[1.418,.0981],[1.088,.0981],[.636,.0943],[.435,.0943],[1.523,.0943],[1.154,.0943],[1.027,.0888],[.685,.0888],[1.076,.0905],[.421,.0861],[.758,.0861],[.33,.0834],[.355,.0834],[.733,.0845],[.831,.0823],[.626,.0768],[.489,.0768],[1.443,.0752],[.917,.0736],[.269,.0725],[.445,.0714],[.533,.0714],[.782,.0714],[.807,.0714],[1.43,.0714],[1.831,.0687],[.88,.0698],[.599,.0752],[.733,.0616],[.709,.0605],[.88,.0616],[.513,.0605],[.477,.0605],[.421,.0572],[.628,.0561],[.861,.055],[1.218,.0518],[1.401,.0534],[1.335,.0643],[.562,.0507],[.939,.0474],[.787,.0452],[1.056,.0447],[1.259,.0436],[.888,.0452],[.623,.0441],[.782,.0343],[.677,.0349],[.831,.0343],[.531,.036],[.518,.0316],[1.254,.0316],[1.267,.0278],[1.814,.0251],[.844,.0163],[.597,.0114],[.533,.0016],[.636,.0005]];
const cd8Zero = [];
const cd8Fit = [.1619,.1944,.2268,.2593,.2918,.3243,.3568,.3924];
const cd8Lo = [.1246,.1704,.2094,.2353,.2545,.2718,.2885,.3084];
const cd8Hi = [.1992,.2184,.2442,.2833,.3291,.3768,.4251,.4764];

const gammaPts = [[1.31,.1452],[1.406,.1388],[.731,.1254],[1.156,.1208],[.815,.1116],[1.224,.0994],[1.822,.0968],[.858,.0943],[1.012,.0925],[.666,.0906],[.75,.0897],[.724,.0871],[1.245,.0834],[1.212,.0824],[.938,.0811],[1.053,.0805],[.913,.078],[1.913,.0784],[.611,.0742],[1.113,.0745],[1.072,.0657],[1.488,.065],[.786,.065],[.721,.0627],[1.183,.0616],[1.226,.0624],[.921,.0597],[.649,.0586],[.822,.0576],[.851,.0561],[1.014,.0561],[.832,.0558],[.81,.0537],[1.589,.0531],[1.007,.05],[.627,.0493],[1.312,.0485],[.656,.0473],[.615,.0467],[.445,.0454],[1.144,.046],[.748,.0445],[.909,.0441],[.971,.0443],[1.094,.0445],[1.356,.041],[.716,.0403],[.904,.0403],[.462,.0394],[.529,.0384],[1.892,.0392],[.813,.0387],[.587,.0381],[.531,.0366],[.502,.0353],[.428,.035],[.757,.0356],[1.139,.0353],[1.156,.0353],[.697,.0342],[1.44,.034],[.755,.0344],[.863,.033],[.798,.0327],[.69,.0323],[.82,.0309],[1.202,.0312],[1.221,.0304],[.844,.03],[2.248,.0295],[1.329,.0292],[.784,.029],[.637,.029],[.62,.0285],[.281,.0272],[.517,.0271],[.567,.0274],[.673,.0276],[.788,.0252],[.632,.0249],[.555,.0243],[.916,.0242],[.938,.0235],[.75,.0232],[1.05,.0229],[1.048,.0223],[.594,.0222],[.671,.0223],[.865,.0214],[.531,.0214],[.548,.0204],[.7,.02],[.923,.0208],[.856,.02],[.572,.019],[1.209,.0197],[1.305,.0194],[1.065,.0182],[1.041,.0181],[1.587,.0178],[1.442,.0172],[.454,.0169],[.781,.0175],[.584,.0172],[.853,.0172],[.675,.0172],[.572,.0154],[.596,.0154],[.68,.0154],[.825,.0152],[.447,.0135],[1.334,.0127],[1.613,.0128],[.632,.0137],[.861,.0137],[.495,.0125],[.469,.0109],[.56,.0116],[.596,.0121],[.661,.0119],[.793,.0125],[.849,.0125],[.897,.0113],[.865,.0105],[.981,.0116],[.974,.0105],[1.089,.0107],[.793,.0097],[1.07,.0095],[.969,.0089],[.928,.0086],[1.048,.0086],[1.394,.0074],[1.029,.0069],[1.269,.0067],[.964,.0059],[1.106,.0059],[.832,.0057],[.704,.0057],[1.401,.0048],[1.084,.0048],[.62,.005],[.873,.0045],[.776,.004],[1.221,.0038],[1.233,.0033],[.488,.0033],[.505,.003],[.817,.003],[.644,.003],[1.81,.0026],[.421,.0021],[1.575,.0018],[.933,.0021],[.704,.0024],[.632,.0021]];
const gammaZero = [0,.26,.27,.31,.33,.35,.37,.39,.41,.43,.45,.47,.49,.51,.53,.55,.57,.59,.61,.63,.65,.67,.69,.71,.73,.75,.77,.79,.81,.83,.85,.87,.89,.91,.93,.95,.98,1.02,1.05,1.08,1.12,1.16,1.2,1.23,1.26,1.29,1.33,1.37,1.41,1.43,1.52,1.56,1.59,1.61,1.71,1.86,2.36,2.84];
const gammaFit = [.0032,.0081,.013,.0179,.0228,.0277,.0326,.038];
const gammaLo = [-.0032,.004,.01,.0138,.0164,.0187,.0209,.0238];
const gammaHi = [.0096,.0122,.016,.022,.0292,.0367,.0443,.0522];

const tfhPts = [[.79,.0729],[1.205,.0695],[1.242,.0693],[.939,.0664],[1.144,.0657],[1.064,.0649],[1.076,.0651],[.611,.0605],[1.438,.0604],[1.015,.0599],[1.09,.0585],[1.355,.0585],[.667,.0587],[.391,.0578],[.435,.0562],[1.222,.0559],[1.489,.0556],[.814,.0548],[1.445,.0544],[.912,.054],[1.134,.0539],[1.895,.0527],[.694,.0507],[1.093,.0505],[1.071,.0489],[.68,.0483],[.875,.048],[1.049,.0481],[.697,.0475],[1.548,.047],[.924,.0469],[1.592,.0463],[1.029,.0464],[.614,.0459],[.528,.0452],[.902,.0451],[1.083,.0448],[.976,.0434],[.721,.0428],[.699,.0419],[.856,.0416],[.648,.0409],[.809,.0409],[1.917,.0407],[2.844,.0404],[.557,.0404],[1.115,.04],[.971,.0399],[.851,.039],[1.242,.0391],[.971,.0387],[1.022,.0386],[.689,.0383],[.914,.0382],[1.051,.038],[1.31,.0382],[1.352,.0381],[1.232,.0381],[.929,.0376],[1.205,.0376],[1.254,.0373],[.971,.0369],[1.012,.0369],[.814,.0366],[.802,.0361],[1.186,.0365],[1.225,.0365],[1.394,.0362],[.633,.0359],[.543,.035],[.758,.0342],[.665,.034],[1.051,.0342],[.589,.0338],[1.306,.034],[.785,.0334],[1.083,.0336],[.917,.0334],[.932,.0333],[1.086,.033],[.533,.033],[1.259,.0329],[.553,.032],[.631,.0323],[.665,.0324],[1.853,.0324],[1.02,.0309],[.919,.0306],[.631,.0304],[.851,.0302],[.452,.0297],[.729,.0298],[.868,.0294],[.352,.0291],[1.154,.0289],[1.22,.029],[1.315,.0282],[.785,.0274],[.839,.0266],[.873,.0268],[.912,.0269],[1.142,.0269],[1.242,.0268],[.543,.0262],[1.215,.0259],[1.156,.0257],[.785,.0253],[.966,.0254],[.428,.0249],[.516,.0249],[1.076,.0246],[.594,.024],[1.161,.0238],[.738,.0234],[.841,.0233],[.509,.0232],[1.252,.0232],[1.269,.0236],[1.589,.0229],[.589,.0225],[.621,.0224],[.648,.0223],[.919,.0227],[.746,.0221],[.861,.0219],[.364,.0218],[.748,.0214],[.802,.0212],[1.396,.0209],[1.433,.0208],[1.066,.0209],[1.108,.0209],[1.012,.0205],[.748,.0202],[.577,.02],[.462,.0197],[1.12,.0194],[1.071,.0192],[.826,.0192],[1.267,.0186],[.633,.0184],[.976,.0186],[.87,.0181],[1.377,.0181],[2.355,.0181],[.501,.018],[.477,.0177],[.699,.0181],[1.054,.0184],[1.154,.0178],[.323,.0175],[.619,.0172],[.655,.0172],[.716,.0171],[.46,.0168],[1.614,.0168],[1.21,.0165],[.575,.0166],[.765,.0168],[.851,.0166],[.973,.0161],[.724,.0158],[.606,.0155],[.655,.0156],[.851,.0155],[.826,.0152],[.961,.0158],[.68,.0149],[.704,.0147],[1.337,.0154],[.57,.0146],[1.335,.0143],[1.521,.0147],[1.015,.0142],[.778,.0146],[.704,.014],[.851,.0137],[.929,.0136],[.399,.0128],[.733,.0131],[.839,.0131],[.88,.0134],[1.154,.0124],[.753,.0123],[.467,.0116],[1.433,.0118],[.978,.0119],[.778,.0117],[.587,.0119],[1.604,.0112],[.826,.0111],[.963,.0109],[.46,.0102],[.526,.0106],[.66,.01],[.831,.0106],[.709,.0103],[.863,.0097],[.741,.0094],[.57,.0095],[.606,.0094],[.765,.0095],[.973,.009],[1.21,.0087],[.443,.0086],[1.57,.0086],[1.406,.0083],[1.039,.0081],[.557,.008],[.631,.008],[.729,.0081],[.582,.0073],[.528,.0068],[.643,.0068],[.484,.0062],[.66,.0065],[.721,.0058],[.814,.0058],[.489,.0052],[.667,.0054],[.949,.0049],[.557,.0046],[.802,.0043],[.844,.0046],[1.056,.0046],[1.572,.0041],[1.152,.0039],[.614,.0039],[.9,.0037],[.875,.0032],[.643,.0032],[1.088,.0033],[1.33,.003],[.533,.0026],[1.002,.0023],[.655,.0024],[.704,.0021],[.851,.0024],[.917,.002],[.455,.0018],[1.826,.0017],[.496,.0012],[.606,.0012],[1.267,.0009],[.949,.0007]];
const tfhZero = [0,.24,.26,.28,.3,.32,.34,.36,.38,.4,.42,.44,.46,.48,.5,.52,.54,.56,.58,.6,.62,.64,.66,.68,.7,.72,.74,.76,.78,.8,.82,.84,.86,.88,.9,.92,.94,.97,1.02,1.05,1.07,1.1,1.15,1.17,1.21,1.23,1.25,1.29,1.31,1.41,1.43,1.44,1.71,1.81];
const tfhFit = [.0037,.0096,.0154,.0213,.0271,.033,.0389,.0453];
const tfhLo = [-.0005,.0069,.0134,.0186,.0229,.0271,.0312,.0355];
const tfhHi = [.0079,.0123,.0174,.024,.0313,.0389,.0466,.0551];

const tregPts = [[.974,.1299],[.649,.126],[.546,.1093],[1.856,.1014],[1.231,.0963],[.55,.0859],[.748,.0848],[1.548,.0844],[.916,.084],[.5,.0726],[.868,.0691],[.673,.0694],[.678,.0682],[.918,.0645],[1.089,.0639],[.728,.0616],[.803,.0607],[.74,.0595],[.553,.0593],[1.046,.0595],[1.161,.0595],[1.313,.06],[.663,.0586],[.861,.0588],[.978,.0577],[.591,.0559],[.769,.0562],[1.041,.0568],[.911,.0553],[.93,.0544],[1.029,.0537],[1.084,.0531],[.639,.053],[1.57,.0517],[2.252,.0515],[1.154,.0514],[.724,.0507],[.656,.05],[1.317,.0496],[.861,.049],[.974,.0489],[1.445,.0487],[.906,.0467],[.856,.046],[1.055,.0465],[1.012,.0457],[1.065,.0437],[1.233,.043],[1.264,.0428],[1.332,.043],[1.305,.042],[.563,.0424],[.834,.0412],[.69,.041],[1.077,.0411],[1.053,.0405],[1.154,.0403],[.608,.0399],[.591,.039],[.776,.0394],[.784,.0385],[.675,.0385],[.704,.0385],[.853,.0383],[.447,.0381],[.428,.0367],[.572,.0364],[.983,.0367],[.962,.0359],[1.356,.0369],[1.49,.0366],[1.166,.0358],[1.594,.0356],[.464,.0357],[.493,.0357],[.639,.0356],[.877,.035],[.788,.0347],[.476,.0347],[.952,.0342],[.885,.0339],[1.185,.0342],[1.065,.0337],[1.257,.0337],[.613,.0339],[1.118,.0331],[.8,.0326],[.849,.0326],[.897,.0329],[1.245,.0323],[.548,.0321],[.608,.0318],[.493,.0319],[.704,.0323],[.728,.0321],[1.608,.0313],[1.264,.0306],[.44,.0307],[.95,.0298],[1.351,.0295],[1.401,.0298],[.663,.03],[1.053,.0298],[1.089,.029],[1.118,.029],[.519,.0288],[1.012,.0286],[.596,.0285],[.673,.0279],[.536,.0274],[.416,.0269],[.921,.0269],[1.577,.0273],[.897,.0261],[.873,.0259],[.813,.0261],[.596,.0259],[1.269,.0255],[1.377,.0255],[.68,.0253],[.974,.0248],[.704,.0238],[.813,.0238],[1.01,.0233],[.548,.0224],[.596,.0227],[.632,.0222],[.447,.0217],[1.438,.0215],[1.077,.0225],[.704,.0219],[.776,.0219],[.825,.0215],[.861,.0222],[.957,.0215],[.351,.0194],[1.615,.0194],[.404,.0184],[.44,.0181],[.488,.0188],[.548,.0188],[.632,.0181],[.752,.0181],[.813,.0175],[.861,.0175],[1.161,.0181],[1.113,.0181],[1.438,.0175],[1.252,.0178],[.512,.017],[.572,.017],[.933,.0173],[.981,.017],[1.065,.017],[.748,.0163],[.897,.0165],[1.442,.0169],[1.149,.016],[1.221,.0153],[.507,.0146],[.608,.015],[.788,.0153],[.921,.015],[1.065,.0144],[1.089,.0144],[1.149,.0139],[1.257,.0141],[.728,.0134],[.632,.0132],[.957,.0134],[1.005,.0129],[.897,.0121],[.252,.0115],[.32,.0118],[.56,.0115],[.945,.0121],[1.894,.0111],[1.42,.0113],[1.594,.0109],[1.341,.0109],[1.125,.0109],[.459,.0107],[.8,.0105],[.849,.0103],[1.053,.0103],[1.813,.01],[.656,.0098],[.704,.0098],[.748,.0101],[1.245,.0087],[.536,.0087],[.627,.0085],[.68,.0087],[.921,.0092],[1.394,.0082],[.279,.0069],[.377,.0072],[.447,.0075],[.603,.0077],[.728,.0072],[.897,.0077],[1.017,.0072],[.825,.007],[1.094,.0063],[1.216,.0061],[1.413,.0059],[1.228,.0051],[.536,.0049],[.608,.0049],[.716,.0046],[.873,.0051],[.776,.004],[1.022,.0044],[.981,.0038],[.368,.0034],[1.084,.003],[1.337,.0036],[2.361,.003],[.933,.003],[.524,.003],[.44,.0025],[.5,.0028],[.813,.0025],[.32,.0015],[.392,.0015],[.62,.0015],[.68,.0018],[.776,.002],[.873,.002],[1.154,.0011],[1.209,.0011],[1.082,.002],[1.293,.0011],[.64,.0065],[.66,.0115],[.7,.0105],[.76,.0085],[.78,.0065],[.82,.0045],[.85,.0085],[.87,.0125],[.92,.0105],[.6,.0035],[.66,.003],[.72,.003],[.77,.0075],[.8,.0015],[.84,.003]];
const tregZero = [0,.27,.35,.39,.41,.43,.46,.48,.5,.52,.54,.56,.58,.6,.66,.68,.7,.72,.74,.76,.78,.8,.82,.84,.86,.88,.9,.92,.98,1.07,1.09,1.21,1.23,1.27,1.31,1.41,1.52,1.71,1.83,1.92,2.84];
const tregFit = [.0131,.0162,.0193,.0224,.0255,.0287,.0318,.0352];
const tregLo = [.0075,.0126,.0167,.0188,.0199,.0208,.0216,.023];
const tregHi = [.0187,.0198,.0219,.026,.0311,.0366,.042,.0474];

const panels = [
  { name: 'B cells naive', R: '−0.24', p: '9.5e−07', l: 62, r: 576, t: 1, b: 492, lx: 20, dom: [-.0496, .3563], maj: [0, .1, .2, .3], min: [.05, .15, .25, .35], dg: 1, pts: bCellsPts, zero: bCellsZero, fit: bCellsFit, lo: bCellsLo, hi: bCellsHi },
  { name: 'Dendritic cells activated', R: '−0.13', p: '0.01', l: 691, r: 1197, t: 1, b: 492, lx: 640, dom: [-.0106, .0795], maj: [0, .02, .04, .06], min: [-.01, .01, .03, .05, .07], dg: 2, pts: dcPts, zero: dcZero, fit: dcFit, lo: dcLo, hi: dcHi },
  { name: 'T cells CD4 memory resting', R: '−0.15', p: '0.0017', l: 1307, r: 1821, t: 2, b: 494, lx: 1265, dom: [-.0205, .4354], maj: [0, .1, .2, .3, .4], min: [.05, .15, .25, .35], dg: 1, pts: cd4RestPts, zero: cd4RestZero, fit: cd4RestFit, lo: cd4RestLo, hi: cd4RestHi },
  { name: 'Mast cells resting', R: '−0.25', p: '2.5e−07', l: 65, r: 571, t: 592, b: 1082, lx: 16, dom: [-.0319, .1738], maj: [0, .05, .1, .15], min: [-.025, .025, .075, .125], dg: 2, pts: mastPts, zero: mastZero, fit: mastFit, lo: mastLo, hi: mastHi },
  { name: 'NK cells resting', R: '−0.16', p: '0.0015', l: 691, r: 1197, t: 596, b: 1086, lx: 641, dom: [-.0373, .2284], maj: [0, .05, .1, .15, .2], min: [-.025, .025, .075, .125, .175, .225], dg: 2, pts: nkPts, zero: nkZero, fit: nkFit, lo: nkLo, hi: nkHi },
  { name: 'Plasma cells', R: '−0.12', p: '0.014', l: 1312, r: 1826, t: 595, b: 1086, lx: 1269, dom: [-.0313, .2976], maj: [0, .1, .2], min: [.05, .15, .25], dg: 1, pts: plasmaPts, zero: plasmaZero, fit: plasmaFit, lo: plasmaLo, hi: plasmaHi },
  { name: 'Macrophages M1', R: '0.12', p: '0.016', l: 72, r: 577, t: 1220, b: 1711, lx: 22, dom: [-.0081, .2158], maj: [0, .05, .1, .15, .2], min: [.025, .075, .125, .175], dg: 2, pts: m1Pts, zero: m1Zero, fit: m1Fit, lo: m1Lo, hi: m1Hi },
  { name: 'T cells CD4 memory activated', R: '0.13', p: '0.0064', l: 700, r: 1206, t: 1220, b: 1711, lx: 650, dom: [-.0173, .1814], maj: [0, .05, .1, .15], min: [.025, .075, .125, .175], dg: 2, pts: cd4ActPts, zero: cd4ActZero, fit: cd4ActFit, lo: cd4ActLo, hi: cd4ActHi },
  { name: 'T cells CD8', R: '0.17', p: '0.00044', l: 1314, r: 1827, t: 1217, b: 1708, lx: 1270, dom: [-.032, .7166], maj: [0, .2, .4, .6], min: [.1, .3, .5, .7], dg: 1, pts: cd8Pts, zero: cd8Zero, fit: cd8Fit, lo: cd8Lo, hi: cd8Hi },
  { name: 'T cells gamma delta', R: '0.16', p: '0.0016', l: 75.5, r: 581, t: 1848, b: 2338, lx: 24.5, dom: [-.0107, .1525], maj: [0, .05, .1, .15], min: [.025, .075, .125], dg: 2, pts: gammaPts, zero: gammaZero, fit: gammaFit, lo: gammaLo, hi: gammaHi },
  { name: 'T cells follicular helper', R: '0.29', p: '3.8e−09', l: 700, r: 1206, t: 1847, b: 2338, lx: 650, dom: [-.00452, .0766], maj: [0, .02, .04, .06], min: [.01, .03, .05, .07], dg: 2, pts: tfhPts, zero: tfhZero, fit: tfhFit, lo: tfhLo, hi: tfhHi },
  { name: 'T cells regulatory (Tregs)', R: '0.16', p: '0.00088', l: 1320, r: 1827, t: 1848, b: 2339, lx: 1270, dom: [-.00644, .1362], maj: [0, .05, .1], min: [.025, .075, .125], dg: 2, pts: tregPts, zero: tregZero, fit: tregFit, lo: tregLo, hi: tregHi },
];

const dot = (p: any) => <circle cx={p.cx} cy={p.cy} r={3.9} fill="#000" />;

function Panel({ c }: { c: any }) {
  const labelPad = 14;
  const yaw = c.l - c.lx + labelPad;
  const w = c.r - c.l;
  const h = c.b - c.t;
  const table = smoothX.map((x, i) => ({ x, fit: c.fit[i], band: [c.lo[i], c.hi[i]] }));
  const points = c.pts.map((q: number[]) => ({ x: q[0], y: q[1] })).concat(c.zero.map((x: number) => ({ x, y: 0 })));
  const tick = { fontSize: 14.5, fontFamily: FONT, fill: '#4d4d4d' };
  const x0 = c.l + (w * 0.143) / (xDomain[1] - xDomain[0]);
  return (
    <>
      <div style={{ position: 'absolute', left: c.l - yaw, top: c.t, width: w + yaw, height: h + 46 }}>
        <ComposedChart width={w + yaw} height={h + 46} data={table} margin={{ top: 0, right: 0, bottom: 0, left: 0 }}>
          <CartesianGrid horizontalValues={c.min} verticalValues={xMinor} stroke="#efefef" strokeWidth={1} />
          <CartesianGrid horizontalValues={c.maj} verticalValues={xTicks} stroke="#ebebeb" strokeWidth={1.8} />
          <XAxis dataKey="x" type="number" domain={xDomain} ticks={xTicks} allowDataOverflow height={46} axisLine={false}
            tickSize={4} tickMargin={3} tick={tick} tickLine={{ stroke: '#333', strokeWidth: 1.2 }}
            label={{ value: 'OIP5', position: 'insideBottom', offset: 7, style: { fontSize: 17, fontFamily: FONT, fill: '#000' } }} />
          <YAxis type="number" domain={c.dom} ticks={c.maj} allowDataOverflow width={yaw} axisLine={false}
            tickSize={4} tickMargin={4} tick={tick} tickLine={{ stroke: '#333', strokeWidth: 1.2 }}
            tickFormatter={(v: number) => v.toFixed(c.dg)}
            label={{ value: c.name, angle: -90, position: 'insideLeft', offset: labelPad, style: { textAnchor: 'middle', fontSize: 17.5, fontFamily: FONT, fill: '#000' } }} />
          <Scatter data={points} dataKey="y" isAnimationActive={false} shape={dot} />
          <Area dataKey="band" type="linear" stroke="none" fill="#999999" fillOpacity={0.4} dot={false} activeDot={false} isAnimationActive={false} />
          <Line dataKey="fit" type="linear" stroke="#3366FF" strokeWidth={3} dot={false} activeDot={false} isAnimationActive={false} />
        </ComposedChart>
      </div>
      <div style={{ position: 'absolute', left: c.l, top: c.t, width: w, height: h, boxSizing: 'border-box', border: '2px solid #4f4f4f', pointerEvents: 'none' }} />
      <div style={{ position: 'absolute', left: x0, top: c.t + 35, transform: 'translateY(-50%)', whiteSpace: 'nowrap', fontFamily: FONT, fontSize: 18, color: '#000' }}>
        <i>R</i> = {c.R} , <i>p</i> = {c.p}
      </div>
    </>
  );
}

export default function App() {
  return (
    <div style={{ position: 'absolute', left: 0, top: 0, width: 1829, height: 2384, background: '#fff', overflow: 'hidden', filter: 'blur(0.35px)' }}>
      {panels.map((c) => <Panel key={c.name} c={c} />)}
      <svg style={{ position: 'absolute', left: 1183, top: 1441, width: 12, height: 18 }} viewBox="0 0 12 18">
        <path d="M1.5 1 H10.5 M6 1 V17 M1.5 17 H10.5" stroke="#222" strokeWidth="1.6" fill="none" />
      </svg>
    </div>
  );
}
